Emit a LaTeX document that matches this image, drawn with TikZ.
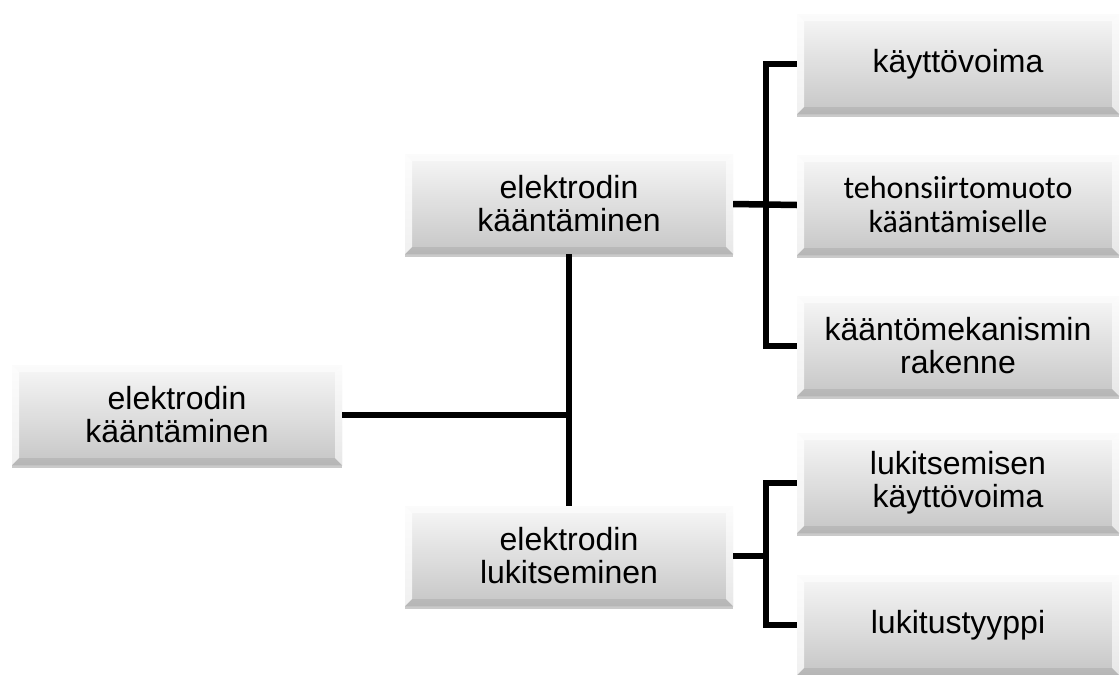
\documentclass[tikz,border=0pt]{standalone}
\usepackage{fontspec}
\setmainfont{Liberation Sans}
\newfontfamily\calibrifont{Carlito}
\usetikzlibrary{shadows}
\definecolor{boxtop}{HTML}{F7F7F7}
\definecolor{boxbot}{HTML}{C6C6C6}
\tikzset{
  bevelbox/.style={
    rectangle, minimum height=100pt, inner sep=0pt, align=center,
    top color=boxtop, bottom color=boxbot, draw=none,
    font=\fontsize{32}{33}\selectfont,
    drop shadow={shadow xshift=0pt, shadow yshift=-3pt, opacity=0.35, fill=black!60},
    path picture={
      \path (path picture bounding box.south west) coordinate (pSW)
            (path picture bounding box.north east) coordinate (pNE)
            (path picture bounding box.north west) coordinate (pNW)
            (path picture bounding box.south east) coordinate (pSE);
      \fill[white, opacity=0.55] (pNW) -- (pNE) -- ([xshift=-7pt,yshift=-7pt]pNE) -- ([xshift=7pt,yshift=-7pt]pNW) -- cycle;
      \fill[white, opacity=0.75] (pNW) -- ([xshift=7pt,yshift=-7pt]pNW) -- ([xshift=7pt,yshift=7pt]pSW) -- (pSW) -- cycle;
      \fill[white, opacity=0.6] (pNE) -- ([xshift=-7pt,yshift=-7pt]pNE) -- ([xshift=-7pt,yshift=7pt]pSE) -- (pSE) -- cycle;
      \fill[black, opacity=0.08] (pSW) -- ([xshift=7pt,yshift=7pt]pSW) -- ([xshift=-7pt,yshift=7pt]pSE) -- (pSE) -- cycle;
    }
  },
  leftbox/.style={bevelbox, minimum width=330pt},
  midbox/.style={bevelbox, minimum width=328pt},
  rightbox/.style={bevelbox, minimum width=322pt},
  conn/.style={line width=6.5pt, black, line join=miter}
}
\begin{document}
\begin{tikzpicture}[x=1pt, y=-1pt]
\useasboundingbox (0,0) rectangle (1120,675);

\node[leftbox] (L) at (177,415) {elektrodin\\kääntäminen};
\node[midbox] (M1) at (569,204) {elektrodin\\kääntäminen};
\node[midbox] (M2) at (569,556) {elektrodin\\lukitseminen};
\node[rightbox] (R1) at (958,64) {käyttövoima};
\node[rightbox, font=\calibrifont\fontsize{32}{34}\selectfont] (R2) at (958,205) {tehonsiirtomuoto\\kääntämiselle};
\node[rightbox] (R3) at (958,346) {kääntömekanismin\\rakenne};
\node[rightbox] (R4) at (958,483) {lukitsemisen\\käyttövoima};
\node[rightbox] (R5) at (958,625) {lukitustyyppi};

\coordinate (j1) at (766,204);
\coordinate (j2) at (766,556);

\draw[conn] (L.east) -- (L.east -| M1.south);
\draw[conn] (M1.south) -- (M2.north);
\draw[conn] (M1.east) -- (R2.west);
\draw[conn] (R1.west) -| (j1) |- (R3.west);
\draw[conn] (M2.east) -- (j2);
\draw[conn] (R4.west) -| (j2) |- (R5.west);
\end{tikzpicture}
\end{document}
